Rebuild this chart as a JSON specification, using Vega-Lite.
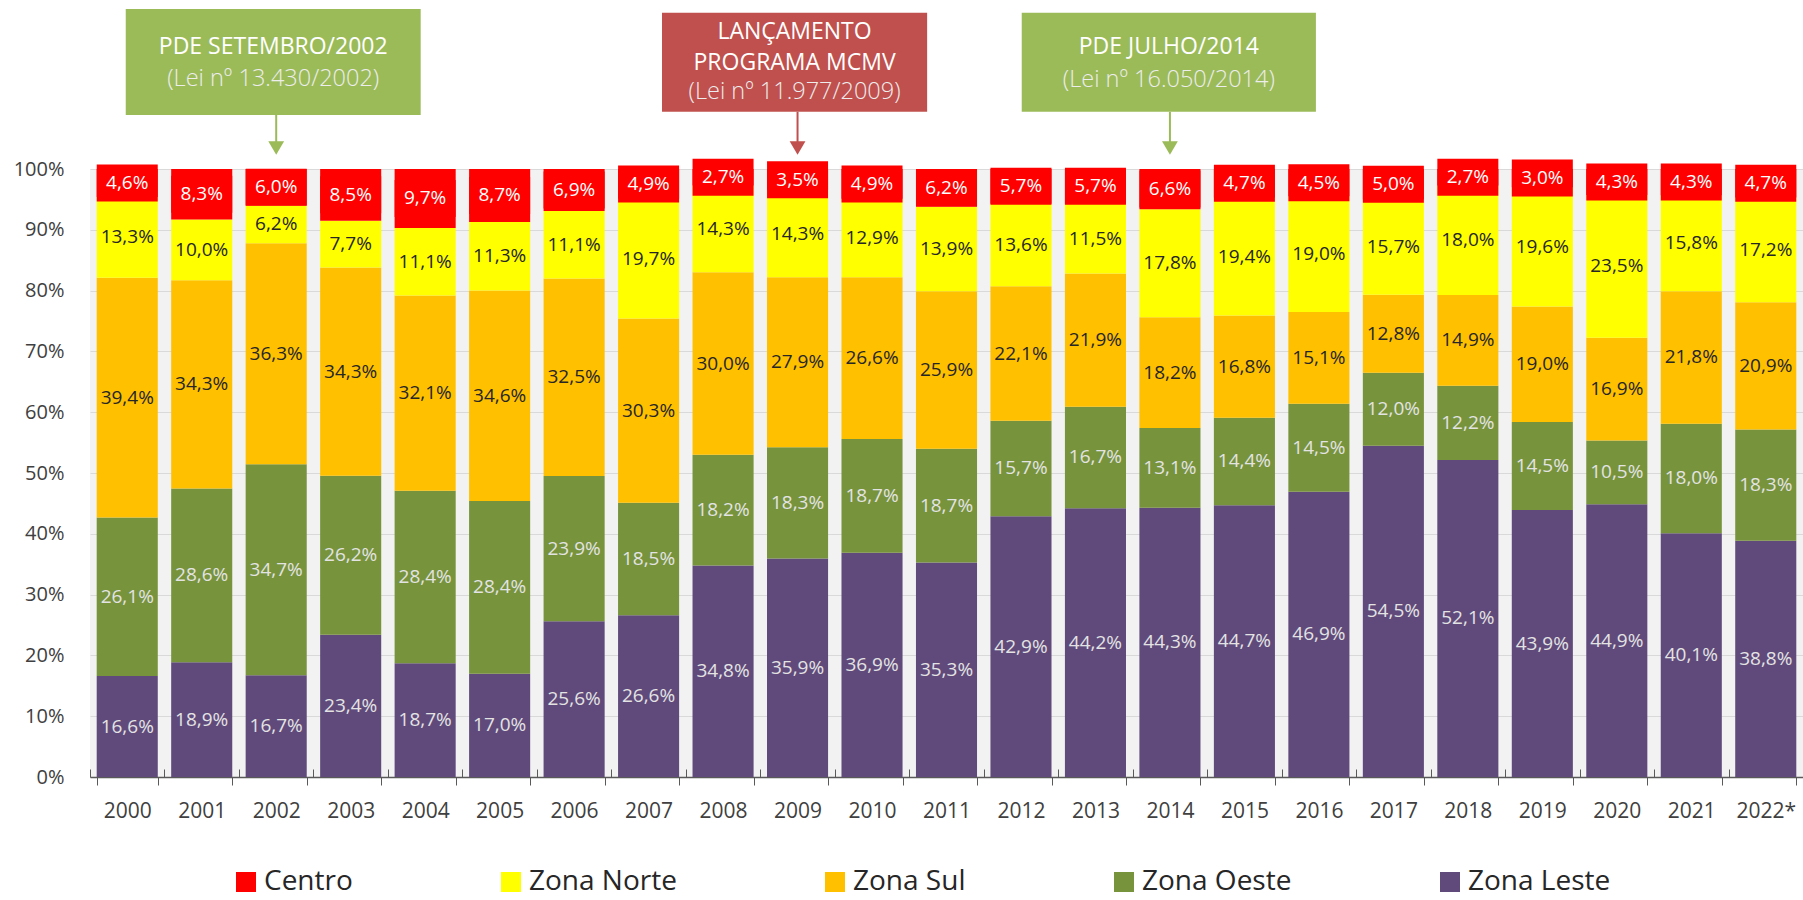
{
  "$schema": "https://vega.github.io/schema/vega-lite/v6.json",
  "width": 1713,
  "height": 608,
  "autosize": {"type": "none"},
  "padding": {"left": 90, "top": 169, "right": 0, "bottom": 123},
  "background": "white",
  "config": {
    "font": "Open Sans",
    "view": {"fill": "#F2F2F2", "stroke": null},
    "locale": {"number": {"decimal": ",", "thousands": ".", "grouping": [3], "currency": ["R$", ""]}}
  },
  "datasets": {
    "zonas": [
      {"ano": "2000", "zona": "Zona Leste", "share": 0.166, "ordem": 1},
      {"ano": "2000", "zona": "Zona Oeste", "share": 0.261, "ordem": 2},
      {"ano": "2000", "zona": "Zona Sul", "share": 0.394, "ordem": 3},
      {"ano": "2000", "zona": "Zona Norte", "share": 0.133, "ordem": 4},
      {"ano": "2000", "zona": "Centro", "share": 0.046, "ordem": 5},
      {"ano": "2001", "zona": "Zona Leste", "share": 0.189, "ordem": 1},
      {"ano": "2001", "zona": "Zona Oeste", "share": 0.286, "ordem": 2},
      {"ano": "2001", "zona": "Zona Sul", "share": 0.343, "ordem": 3},
      {"ano": "2001", "zona": "Zona Norte", "share": 0.100, "ordem": 4},
      {"ano": "2001", "zona": "Centro", "share": 0.083, "ordem": 5},
      {"ano": "2002", "zona": "Zona Leste", "share": 0.167, "ordem": 1},
      {"ano": "2002", "zona": "Zona Oeste", "share": 0.347, "ordem": 2},
      {"ano": "2002", "zona": "Zona Sul", "share": 0.363, "ordem": 3},
      {"ano": "2002", "zona": "Zona Norte", "share": 0.062, "ordem": 4},
      {"ano": "2002", "zona": "Centro", "share": 0.060, "ordem": 5},
      {"ano": "2003", "zona": "Zona Leste", "share": 0.234, "ordem": 1},
      {"ano": "2003", "zona": "Zona Oeste", "share": 0.262, "ordem": 2},
      {"ano": "2003", "zona": "Zona Sul", "share": 0.343, "ordem": 3},
      {"ano": "2003", "zona": "Zona Norte", "share": 0.077, "ordem": 4},
      {"ano": "2003", "zona": "Centro", "share": 0.085, "ordem": 5},
      {"ano": "2004", "zona": "Zona Leste", "share": 0.187, "ordem": 1},
      {"ano": "2004", "zona": "Zona Oeste", "share": 0.284, "ordem": 2},
      {"ano": "2004", "zona": "Zona Sul", "share": 0.321, "ordem": 3},
      {"ano": "2004", "zona": "Zona Norte", "share": 0.111, "ordem": 4},
      {"ano": "2004", "zona": "Centro", "share": 0.097, "ordem": 5},
      {"ano": "2005", "zona": "Zona Leste", "share": 0.170, "ordem": 1},
      {"ano": "2005", "zona": "Zona Oeste", "share": 0.284, "ordem": 2},
      {"ano": "2005", "zona": "Zona Sul", "share": 0.346, "ordem": 3},
      {"ano": "2005", "zona": "Zona Norte", "share": 0.113, "ordem": 4},
      {"ano": "2005", "zona": "Centro", "share": 0.087, "ordem": 5},
      {"ano": "2006", "zona": "Zona Leste", "share": 0.256, "ordem": 1},
      {"ano": "2006", "zona": "Zona Oeste", "share": 0.239, "ordem": 2},
      {"ano": "2006", "zona": "Zona Sul", "share": 0.325, "ordem": 3},
      {"ano": "2006", "zona": "Zona Norte", "share": 0.111, "ordem": 4},
      {"ano": "2006", "zona": "Centro", "share": 0.069, "ordem": 5},
      {"ano": "2007", "zona": "Zona Leste", "share": 0.266, "ordem": 1},
      {"ano": "2007", "zona": "Zona Oeste", "share": 0.185, "ordem": 2},
      {"ano": "2007", "zona": "Zona Sul", "share": 0.303, "ordem": 3},
      {"ano": "2007", "zona": "Zona Norte", "share": 0.197, "ordem": 4},
      {"ano": "2007", "zona": "Centro", "share": 0.049, "ordem": 5},
      {"ano": "2008", "zona": "Zona Leste", "share": 0.348, "ordem": 1},
      {"ano": "2008", "zona": "Zona Oeste", "share": 0.182, "ordem": 2},
      {"ano": "2008", "zona": "Zona Sul", "share": 0.300, "ordem": 3},
      {"ano": "2008", "zona": "Zona Norte", "share": 0.143, "ordem": 4},
      {"ano": "2008", "zona": "Centro", "share": 0.027, "ordem": 5},
      {"ano": "2009", "zona": "Zona Leste", "share": 0.359, "ordem": 1},
      {"ano": "2009", "zona": "Zona Oeste", "share": 0.183, "ordem": 2},
      {"ano": "2009", "zona": "Zona Sul", "share": 0.279, "ordem": 3},
      {"ano": "2009", "zona": "Zona Norte", "share": 0.143, "ordem": 4},
      {"ano": "2009", "zona": "Centro", "share": 0.035, "ordem": 5},
      {"ano": "2010", "zona": "Zona Leste", "share": 0.369, "ordem": 1},
      {"ano": "2010", "zona": "Zona Oeste", "share": 0.187, "ordem": 2},
      {"ano": "2010", "zona": "Zona Sul", "share": 0.266, "ordem": 3},
      {"ano": "2010", "zona": "Zona Norte", "share": 0.129, "ordem": 4},
      {"ano": "2010", "zona": "Centro", "share": 0.049, "ordem": 5},
      {"ano": "2011", "zona": "Zona Leste", "share": 0.353, "ordem": 1},
      {"ano": "2011", "zona": "Zona Oeste", "share": 0.187, "ordem": 2},
      {"ano": "2011", "zona": "Zona Sul", "share": 0.259, "ordem": 3},
      {"ano": "2011", "zona": "Zona Norte", "share": 0.139, "ordem": 4},
      {"ano": "2011", "zona": "Centro", "share": 0.062, "ordem": 5},
      {"ano": "2012", "zona": "Zona Leste", "share": 0.429, "ordem": 1},
      {"ano": "2012", "zona": "Zona Oeste", "share": 0.157, "ordem": 2},
      {"ano": "2012", "zona": "Zona Sul", "share": 0.221, "ordem": 3},
      {"ano": "2012", "zona": "Zona Norte", "share": 0.136, "ordem": 4},
      {"ano": "2012", "zona": "Centro", "share": 0.057, "ordem": 5},
      {"ano": "2013", "zona": "Zona Leste", "share": 0.442, "ordem": 1},
      {"ano": "2013", "zona": "Zona Oeste", "share": 0.167, "ordem": 2},
      {"ano": "2013", "zona": "Zona Sul", "share": 0.219, "ordem": 3},
      {"ano": "2013", "zona": "Zona Norte", "share": 0.115, "ordem": 4},
      {"ano": "2013", "zona": "Centro", "share": 0.057, "ordem": 5},
      {"ano": "2014", "zona": "Zona Leste", "share": 0.443, "ordem": 1},
      {"ano": "2014", "zona": "Zona Oeste", "share": 0.131, "ordem": 2},
      {"ano": "2014", "zona": "Zona Sul", "share": 0.182, "ordem": 3},
      {"ano": "2014", "zona": "Zona Norte", "share": 0.178, "ordem": 4},
      {"ano": "2014", "zona": "Centro", "share": 0.066, "ordem": 5},
      {"ano": "2015", "zona": "Zona Leste", "share": 0.447, "ordem": 1},
      {"ano": "2015", "zona": "Zona Oeste", "share": 0.144, "ordem": 2},
      {"ano": "2015", "zona": "Zona Sul", "share": 0.168, "ordem": 3},
      {"ano": "2015", "zona": "Zona Norte", "share": 0.194, "ordem": 4},
      {"ano": "2015", "zona": "Centro", "share": 0.047, "ordem": 5},
      {"ano": "2016", "zona": "Zona Leste", "share": 0.469, "ordem": 1},
      {"ano": "2016", "zona": "Zona Oeste", "share": 0.145, "ordem": 2},
      {"ano": "2016", "zona": "Zona Sul", "share": 0.151, "ordem": 3},
      {"ano": "2016", "zona": "Zona Norte", "share": 0.190, "ordem": 4},
      {"ano": "2016", "zona": "Centro", "share": 0.045, "ordem": 5},
      {"ano": "2017", "zona": "Zona Leste", "share": 0.545, "ordem": 1},
      {"ano": "2017", "zona": "Zona Oeste", "share": 0.120, "ordem": 2},
      {"ano": "2017", "zona": "Zona Sul", "share": 0.128, "ordem": 3},
      {"ano": "2017", "zona": "Zona Norte", "share": 0.157, "ordem": 4},
      {"ano": "2017", "zona": "Centro", "share": 0.050, "ordem": 5},
      {"ano": "2018", "zona": "Zona Leste", "share": 0.521, "ordem": 1},
      {"ano": "2018", "zona": "Zona Oeste", "share": 0.122, "ordem": 2},
      {"ano": "2018", "zona": "Zona Sul", "share": 0.149, "ordem": 3},
      {"ano": "2018", "zona": "Zona Norte", "share": 0.180, "ordem": 4},
      {"ano": "2018", "zona": "Centro", "share": 0.027, "ordem": 5},
      {"ano": "2019", "zona": "Zona Leste", "share": 0.439, "ordem": 1},
      {"ano": "2019", "zona": "Zona Oeste", "share": 0.145, "ordem": 2},
      {"ano": "2019", "zona": "Zona Sul", "share": 0.190, "ordem": 3},
      {"ano": "2019", "zona": "Zona Norte", "share": 0.196, "ordem": 4},
      {"ano": "2019", "zona": "Centro", "share": 0.030, "ordem": 5},
      {"ano": "2020", "zona": "Zona Leste", "share": 0.449, "ordem": 1},
      {"ano": "2020", "zona": "Zona Oeste", "share": 0.105, "ordem": 2},
      {"ano": "2020", "zona": "Zona Sul", "share": 0.169, "ordem": 3},
      {"ano": "2020", "zona": "Zona Norte", "share": 0.235, "ordem": 4},
      {"ano": "2020", "zona": "Centro", "share": 0.043, "ordem": 5},
      {"ano": "2021", "zona": "Zona Leste", "share": 0.401, "ordem": 1},
      {"ano": "2021", "zona": "Zona Oeste", "share": 0.180, "ordem": 2},
      {"ano": "2021", "zona": "Zona Sul", "share": 0.218, "ordem": 3},
      {"ano": "2021", "zona": "Zona Norte", "share": 0.158, "ordem": 4},
      {"ano": "2021", "zona": "Centro", "share": 0.043, "ordem": 5},
      {"ano": "2022*", "zona": "Zona Leste", "share": 0.388, "ordem": 1},
      {"ano": "2022*", "zona": "Zona Oeste", "share": 0.183, "ordem": 2},
      {"ano": "2022*", "zona": "Zona Sul", "share": 0.209, "ordem": 3},
      {"ano": "2022*", "zona": "Zona Norte", "share": 0.172, "ordem": 4},
      {"ano": "2022*", "zona": "Centro", "share": 0.047, "ordem": 5}
    ],
    "caixas": [
      {"x": 1999.98, "x2": 2003.94, "y": 1.263, "y2": 1.089, "tipo": "PDE"},
      {"x": 2007.18, "x2": 2010.74, "y": 1.257, "y2": 1.094, "tipo": "MCMV"},
      {"x": 2012.01, "x2": 2015.96, "y": 1.257, "y2": 1.094, "tipo": "PDE"}
    ],
    "setas": [
      {"x": 2002, "y": 1.089, "y2": 1.04, "ponta": 1.0345, "tipo": "PDE"},
      {"x": 2009, "y": 1.094, "y2": 1.04, "ponta": 1.0345, "tipo": "MCMV"},
      {"x": 2014, "y": 1.094, "y2": 1.04, "ponta": 1.0345, "tipo": "PDE"}
    ],
    "titulos": [
      {"x": 2001.96, "y": 1.2007, "texto": "PDE SETEMBRO/2002"},
      {"x": 2008.96, "y": 1.2253, "texto": "LANÇAMENTO"},
      {"x": 2008.96, "y": 1.1743, "texto": "PROGRAMA MCMV"},
      {"x": 2013.985, "y": 1.2012, "texto": "PDE JULHO/2014"}
    ],
    "leis": [
      {"x": 2001.96, "y": 1.148, "texto": "(Lei nº 13.430/2002)"},
      {"x": 2008.96, "y": 1.1266, "texto": "(Lei nº 11.977/2009)"},
      {"x": 2013.985, "y": 1.146, "texto": "(Lei nº 16.050/2014)"}
    ]
  },
  "layer": [
    {
      "data": {"name": "zonas"},
      "encoding": {
        "x": {
          "field": "ano", "type": "ordinal", "sort": null,
          "scale": {"paddingInner": 0.18, "paddingOuter": 0.09},
          "axis": {
            "title": null, "labelAngle": 0, "labelFontSize": 21, "labelFont": "Open Sans",
            "labelColor": "#404040", "labelPadding": 15, "tickBand": "extent", "tickSize": 8,
            "tickColor": "#595959", "domainColor": "#595959", "domainWidth": 1.5, "grid": false
          }
        },
        "order": {"field": "ordem", "type": "quantitative"}
      },
      "layer": [
        {
          "mark": {"type": "bar"},
          "encoding": {
            "y": {
              "field": "share", "type": "quantitative", "stack": "normalize",
              "scale": {"domain": [0, 1], "nice": false},
              "axis": {
                "title": null, "format": ".0%", "values": [0, 0.1, 0.2, 0.3, 0.4, 0.5, 0.6, 0.7, 0.8, 0.9, 1],
                "domain": false, "ticks": false, "tickSize": 0, "labelPadding": 26, "labelFontSize": 20,
                "labelFont": "Open Sans", "labelColor": "#404040", "grid": true, "gridColor": "#D9D9D9", "gridWidth": 1
              }
            },
            "color": {
              "field": "zona", "type": "nominal",
              "scale": {
                "domain": ["Centro", "Zona Norte", "Zona Sul", "Zona Oeste", "Zona Leste"],
                "range": ["#FF0000", "#FFFF00", "#FFC000", "#77933C", "#604A7B"]
              },
              "legend": {
                "orient": "none", "legendX": 142, "legendY": 699, "direction": "horizontal", "title": null,
                "symbolType": "square", "symbolSize": 400, "symbolStrokeWidth": 0, "labelFontSize": 28,
                "labelFont": "Open Sans", "labelColor": "#262626", "columnPadding": 144, "labelOffset": 4,
                "padding": 0, "labelLimit": 0
              }
            }
          }
        },
        {
          "mark": {"type": "tick", "orient": "horizontal", "thickness": 37, "size": 61, "color": "#FF0000"},
          "encoding": {
            "y": {
              "field": "share", "type": "quantitative", "stack": "normalize", "bandPosition": 0.5,
              "scale": {"domain": [0, 1], "nice": false},
              "axis": {
                "title": null, "format": ".0%", "values": [0, 0.1, 0.2, 0.3, 0.4, 0.5, 0.6, 0.7, 0.8, 0.9, 1],
                "domain": false, "ticks": false, "tickSize": 0, "labelPadding": 26, "labelFontSize": 20,
                "labelFont": "Open Sans", "labelColor": "#404040", "grid": true, "gridColor": "#D9D9D9", "gridWidth": 1
              }
            },
            "detail": {"field": "zona", "type": "nominal"},
            "opacity": {"condition": {"test": "datum.zona === 'Centro'", "value": 1}, "value": 0}
          }
        },
        {
          "mark": {"type": "text", "fontSize": 19, "baseline": "middle", "align": "center", "font": "Open Sans"},
          "encoding": {
            "y": {
              "field": "share", "type": "quantitative", "stack": "normalize", "bandPosition": 0.5,
              "scale": {"domain": [0, 1], "nice": false},
              "axis": {
                "title": null, "format": ".0%", "values": [0, 0.1, 0.2, 0.3, 0.4, 0.5, 0.6, 0.7, 0.8, 0.9, 1],
                "domain": false, "ticks": false, "tickSize": 0, "labelPadding": 26, "labelFontSize": 20,
                "labelFont": "Open Sans", "labelColor": "#404040", "grid": true, "gridColor": "#D9D9D9", "gridWidth": 1
              }
            },
            "detail": {"field": "zona", "type": "nominal"},
            "text": {"field": "share", "type": "quantitative", "format": ".1%"},
            "color": {
              "condition": [
                {"test": "datum.zona === 'Zona Leste' || datum.zona === 'Zona Oeste'", "value": "#E3E3E3"},
                {"test": "datum.zona === 'Centro'", "value": "#FFFFFF"}
              ],
              "value": "#262626"
            }
          }
        }
      ]
    },
    {
      "encoding": {
        "x": {
          "field": "x", "type": "quantitative",
          "scale": {"domain": [1999.5, 2022.5], "nice": false, "zero": false},
          "axis": {
            "orient": "bottom", "title": null, "labels": false, "domain": false, "grid": false,
            "values": [1999.5, 2000.5, 2001.5, 2002.5, 2003.5, 2004.5, 2005.5, 2006.5, 2007.5, 2008.5, 2009.5, 2010.5, 2011.5, 2012.5, 2013.5, 2014.5, 2015.5, 2016.5, 2017.5, 2018.5, 2019.5, 2020.5, 2021.5, 2022.5],
            "tickSize": -8, "tickColor": "#595959"
          }
        },
        "y": {
          "field": "y", "type": "quantitative",
          "scale": {"domain": [0, 1], "nice": false, "zero": false},
          "axis": null
        }
      },
      "layer": [
        {
          "data": {"name": "caixas"},
          "mark": {"type": "rect"},
          "encoding": {
            "x2": {"field": "x2"},
            "y2": {"field": "y2"},
            "color": {"condition": {"test": "datum.tipo === 'MCMV'", "value": "#C0504D"}, "value": "#9BBB59"}
          }
        },
        {
          "data": {"name": "setas"},
          "mark": {"type": "rule", "strokeWidth": 2},
          "encoding": {
            "y2": {"field": "y2"},
            "color": {"condition": {"test": "datum.tipo === 'MCMV'", "value": "#C0504D"}, "value": "#9BBB59"}
          }
        },
        {
          "data": {"name": "setas"},
          "mark": {"type": "point", "shape": "triangle-down", "filled": true, "size": 250, "opacity": 1},
          "encoding": {
            "y": {
              "field": "ponta", "type": "quantitative",
              "scale": {"domain": [0, 1], "nice": false, "zero": false},
              "axis": null
            },
            "color": {"condition": {"test": "datum.tipo === 'MCMV'", "value": "#C0504D"}, "value": "#9BBB59"}
          }
        },
        {
          "data": {"name": "titulos"},
          "mark": {"type": "text", "fontSize": 23, "color": "#FFFFFF", "baseline": "middle", "align": "center", "font": "Open Sans"},
          "encoding": {"text": {"field": "texto"}}
        },
        {
          "data": {"name": "leis"},
          "mark": {"type": "text", "fontSize": 23.5, "fontWeight": 300, "color": "#EDEDED", "baseline": "middle", "align": "center", "font": "Open Sans"},
          "encoding": {"text": {"field": "texto"}}
        }
      ]
    }
  ],
  "resolve": {
    "scale": {"x": "independent", "y": "independent"},
    "axis": {"x": "independent", "y": "independent"}
  }
}
